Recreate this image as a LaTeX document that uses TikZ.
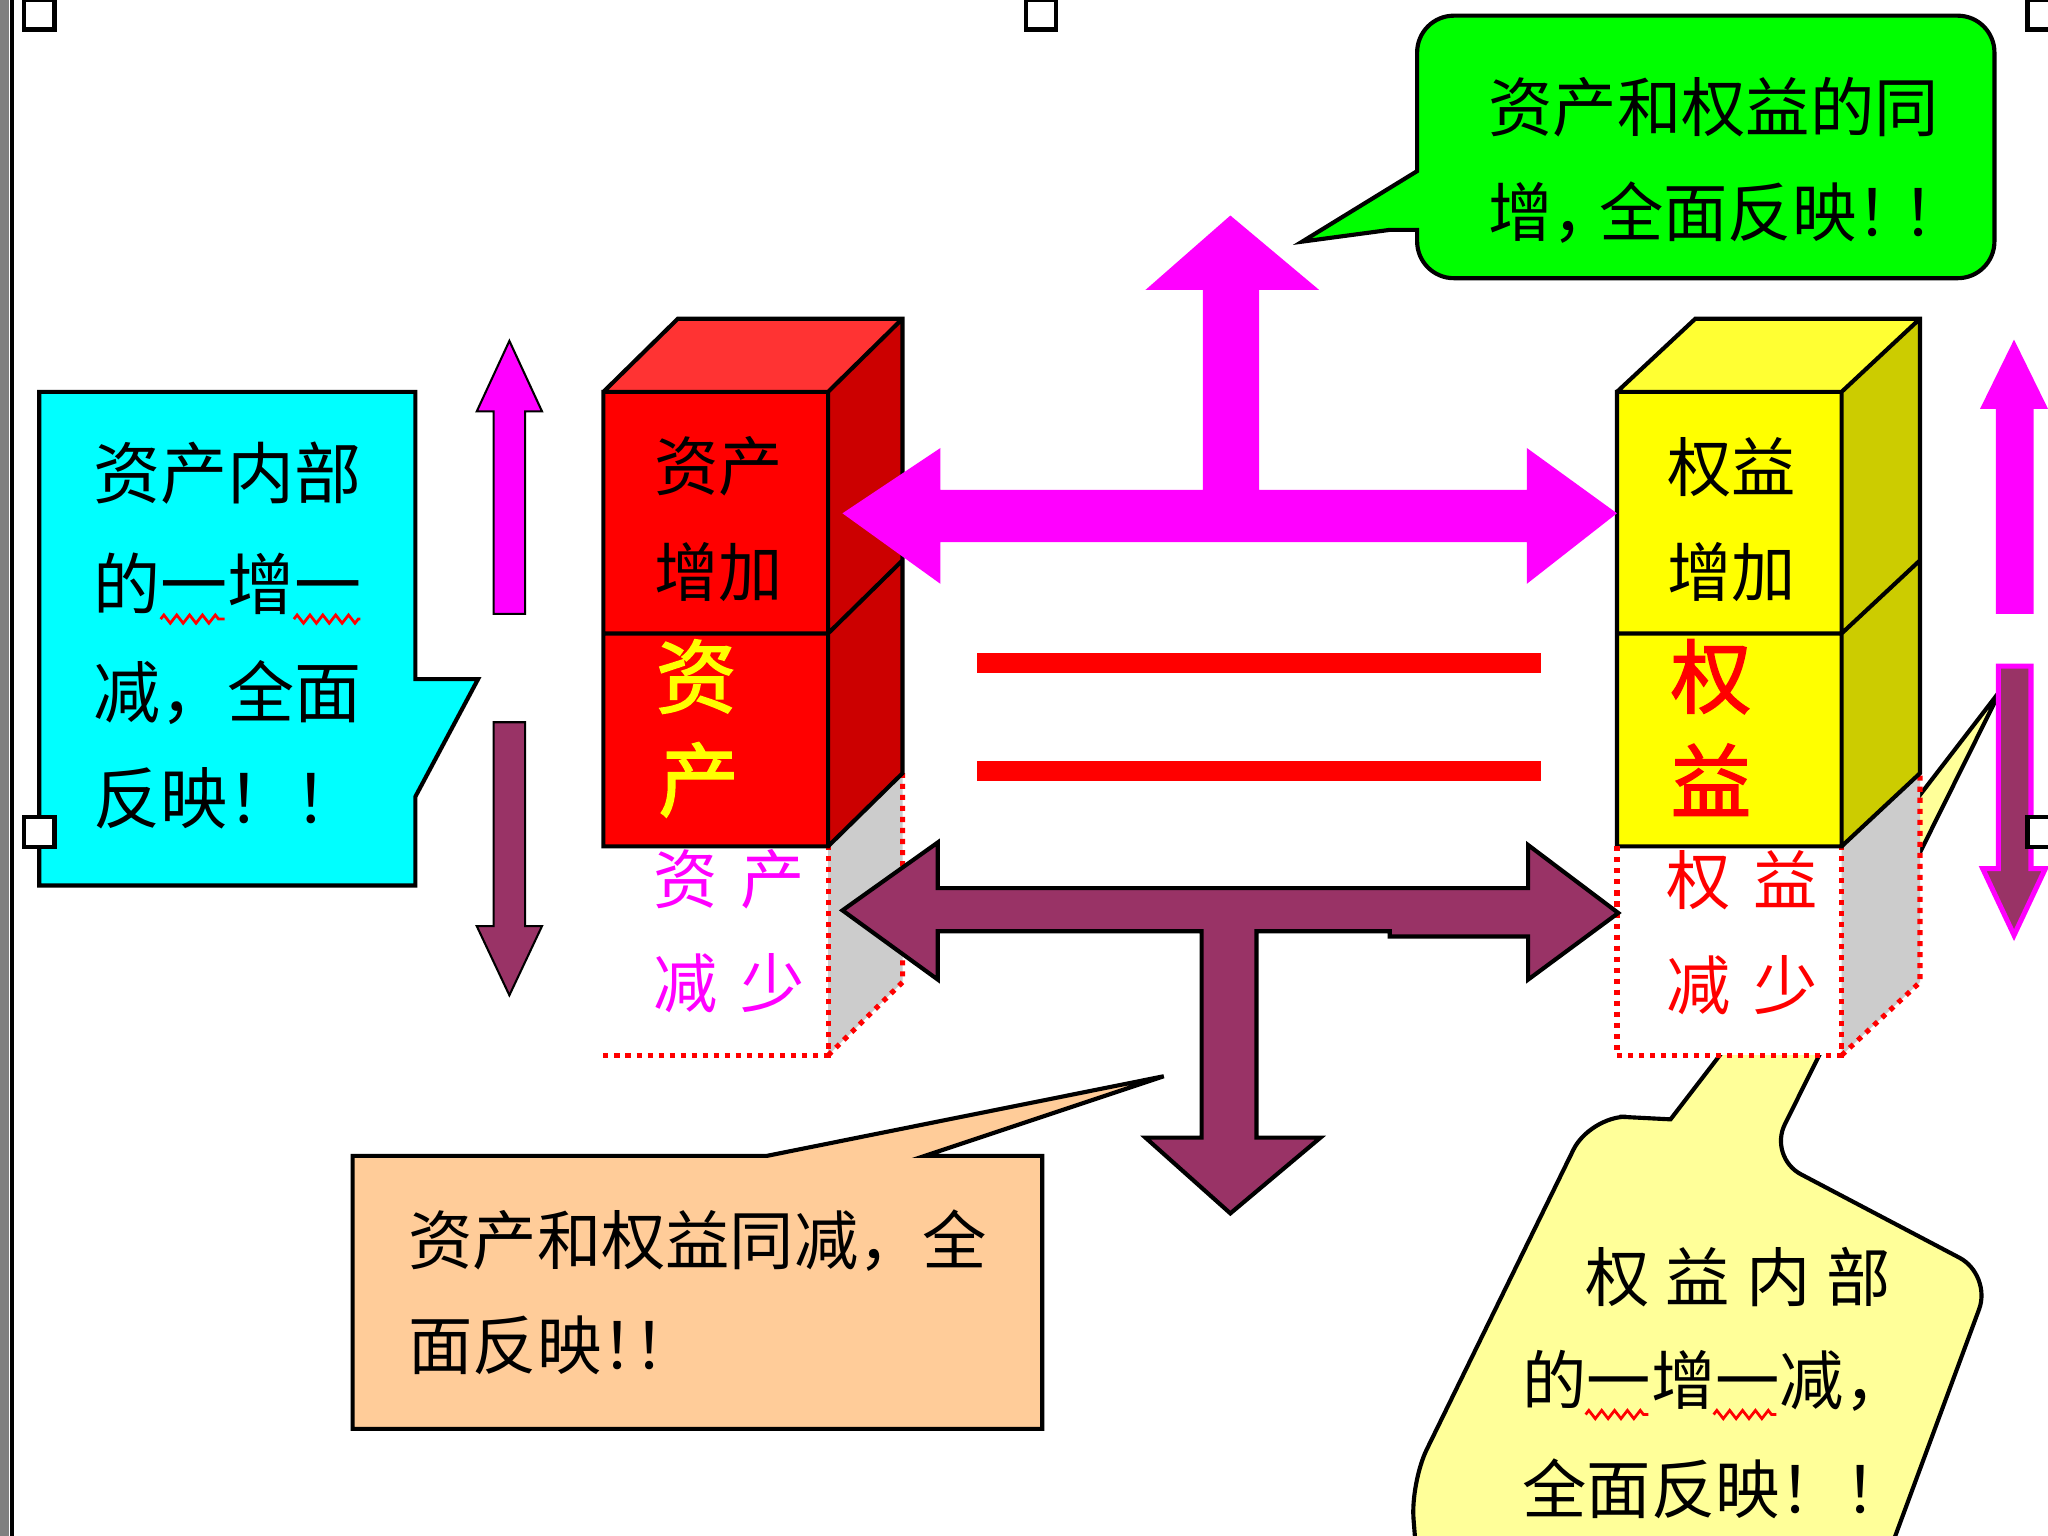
\documentclass[tikz,border=0pt]{standalone}
\usepackage{fontspec}
\newfontfamily\cjk{Noto Sans CJK SC}
\newfontfamily\cjkbf[FakeBold=2]{Noto Sans CJK SC}
\usetikzlibrary{decorations.pathmorphing}

\definecolor{pink}{HTML}{FF00FF}
\definecolor{aqua}{HTML}{00FFFF}
\definecolor{lime}{HTML}{00FF00}
\definecolor{yel}{HTML}{FFFF00}
\definecolor{plum}{HTML}{993366}
\definecolor{redtop}{HTML}{FF3333}
\definecolor{redside}{HTML}{CC0000}
\definecolor{yeltop}{HTML}{FFFF33}
\definecolor{yelside}{HTML}{CCCC00}
\definecolor{ghostgray}{HTML}{CCCCCC}
\definecolor{peach}{HTML}{FFCC99}
\definecolor{paleyel}{HTML}{FFFF99}
\definecolor{winframe}{HTML}{808080}

\newcommand\gp[1][0.3em]{\hspace{#1}}
\newcommand\hw[2][0.72em]{\makebox[#1][l]{#2}}

\tikzset{
  txt/.style={inner sep=0pt, font=\cjk\fontsize{14}{16}\selectfont},
  cyantxt/.style={inner sep=0pt, font=\cjk\fontsize{14.6}{16}\selectfont},
  bigtxt/.style={inner sep=0pt, font=\cjkbf\fontsize{17.5}{20}\selectfont},
  edge/.style={line width=0.9pt, line join=miter},
  callout/.style={draw=black, line width=0.9pt, line join=miter},
  ghostline/.style={red, line width=1.1pt, dash pattern=on 1.1pt off 1.3pt},
  squiggle/.style={red, line width=0.6pt, decorate,
    decoration={zigzag, segment length=2.8pt, amplitude=0.9pt}},
  handle/.style={draw=black, fill=white, line width=1pt, minimum size=6.6pt, inner sep=0pt}
}

\begin{document}
\begin{tikzpicture}[x=0.01cm, y=-0.01cm]
\useasboundingbox (0,0) rectangle (1568,1176);
\clip (0,0) rectangle (1568,1176);
\fill[white] (0,0) rectangle (1568,1176);
% window frame
\fill[winframe] (0,0) rectangle (7,1176);
\draw[line width=0.9pt] (9.5,0) -- (9.5,1176);

% asset callout
\draw[callout, fill=aqua] (30,300) -- (318,300) -- (318,520) -- (366,520) -- (318,610) -- (318,678) -- (30,678) -- cycle;
\node[cyantxt, anchor=west] (a1) at (71,362) {资产内部};
\node[cyantxt, anchor=west] (a2) at (71,447) {的一增一};
\node[cyantxt, anchor=west] (a3) at (71,530) {减，全面};
\node[cyantxt, anchor=west] (a4) at (71,611) {反映\hw[1em]{！}\hw[1em]{！}};
\draw[squiggle] (123,474) -- (172,474);
\draw[squiggle] (225,474) -- (276,474);

% small arrows left
\draw[line width=0.45pt, fill=pink] (378,470) -- (378,315) -- (365,315) -- (390,261) -- (415,315) -- (402,315) -- (402,470) -- cycle;
\draw[line width=0.45pt, fill=plum] (378,553) -- (402,553) -- (402,709) -- (415,709) -- (390,762) -- (365,709) -- (378,709) -- cycle;

% equity callout, behind the blocks
\draw[callout, fill=paleyel] (1532,528) -- (1279,857) -- (1240,855) [rounded corners=8pt] -- (1217,855) -- (1080,1135) -- (1090,1260) -- (1420,1260) -- (1525,976) -- (1354,886) [sharp corners] -- cycle;
\node[txt, anchor=west] (y1) at (1213,978) {权\gp[0.25em]益\gp[0.25em]内\gp[0.25em]部};
\node[txt, anchor=west] (y2) at (1165,1057) {的一增一减，};
\node[txt, anchor=west] (y3) at (1165,1140) {全面反映！！};
\draw[squiggle] (1214,1083) -- (1262,1083);
\draw[squiggle] (1312,1083) -- (1360,1083);

% blocks with their dotted shadows
\foreach \x/\d/\cf/\ct/\cs in {462/57/red/redtop/redside, 1238/60/yel/yeltop/yelside} {
  \fill[white] (\x,648) rectangle ++(172,160);
  \fill[ghostgray] (\x+172,648) -- ++(\d,-56) -- ++(0,160) -- ++(-\d,56) -- cycle;
  \draw[ghostline] (\x,808) -- ++(172,0) -- ++(0,-160);
  \draw[ghostline] (\x+172,808) -- ++(\d,-56) -- ++(0,-160);
  \fill[\cf] (\x,300) rectangle ++(172,348);
  \fill[\ct] (\x,300) -- ++(\d,-56) -- ++(172,0) -- ++(-\d,56) -- cycle;
  \fill[\cs] (\x+172,300) -- ++(\d,-56) -- ++(0,348) -- ++(-\d,56) -- cycle;
  \draw[edge] (\x,300) rectangle ++(172,348) (\x,485) -- ++(172,0) -- ++(\d,-56)
    (\x,300) -- ++(\d,-56) -- ++(172,0) -- ++(0,348) -- ++(-\d,56)
    (\x+172,300) -- ++(\d,-56);
}
\draw[ghostline] (1238,648) -- (1238,808);

\node[txt] (rc1) at (550,357) {资产};
\node[txt] (rc2) at (550,438) {增加};
\node[bigtxt, yel] (rc3) at (533,518) {资};
\node[bigtxt, yel] (rc4) at (535,597) {产};
\node[txt, pink] (rg1) at (558,673) {资\gp[0.35em]产};
\node[txt, pink] (rg2) at (558,753) {减\gp[0.35em]少};

\node[txt] (yc1) at (1326,358) {权益};
\node[txt] (yc2) at (1326,438) {增加};
\node[bigtxt, red] (yc3) at (1310,518) {权};
\node[bigtxt, red] (yc4) at (1310,597) {益};
\node[txt, red] (yg1) at (1334,674) {权\gp[0.35em]益};
\node[txt, red] (yg2) at (1334,754) {减\gp[0.35em]少};

% both increase / both decrease
\fill[pink] (645,393) -- (720,343) -- (720,375) -- (921,375) -- (921,222) -- (877,222) -- (942,165) -- (1010,222) -- (964,222) -- (964,375) -- (1169,375) -- (1169,343) -- (1238,393) -- (1169,447) -- (1169,415) -- (720,415) -- (720,447) -- cycle;
\draw[edge, fill=plum] (645,697) -- (718,645) -- (718,680) -- (1170,680) -- (1170,647) -- (1239,699) -- (1170,750) -- (1170,717) -- (1064,717) -- (1064,713) -- (962,713) -- (962,871) -- (1011,871) -- (942,929) -- (877,871) -- (920,871) -- (920,713) -- (718,713) -- (718,750) -- cycle;

% equals sign
\fill[red] (748,500) rectangle (1180,515);
\fill[red] (748,583) rectangle (1180,598);

% green callout
\draw[callout, fill=lime] (997,185) -- (1085,131) [rounded corners=8pt] -- (1085,12) -- (1527,12) -- (1527,213) -- (1085,213) [sharp corners] -- (1085,176) -- (1064,176) -- cycle;
\node[txt, anchor=west] (g1) at (1139,82) {资产和权益的同};
\node[txt, anchor=west] (g2) at (1139,163) {增\hw{，}全面反映\hw{！}\hw{！}};

% peach callout
\draw[callout, fill=peach] (270,885) -- (587,885) -- (891,824) -- (708,885) -- (798,885) -- (798,1094) -- (270,1094) -- cycle;
\node[txt, anchor=west] (o1) at (312,950) {资产和权益同减，全};
\node[txt, anchor=west] (o2) at (312,1030) {面反映\hw[0.5em]{！}\hw[0.5em]{！}};

% small arrows right
\fill[pink] (1528,470) -- (1528,313) -- (1516,313) -- (1542,260) -- (1568,313) -- (1557,313) -- (1557,470) -- cycle;
\draw[draw=pink, line width=1.1pt, fill=plum] (1530,510) -- (1555,510) -- (1555,665) -- (1566,665) -- (1542,716) -- (1518,665) -- (1530,665) -- cycle;

% selection handles
\foreach \n/\p in {hTL/{(30,11)}, hTM/{(797,11)}, hTR/{(1564,11)}, hLM/{(30,637)}, hRM/{(1564,637)}}
  \node[handle] (\n) at \p {};
\end{tikzpicture}
\end{document}
